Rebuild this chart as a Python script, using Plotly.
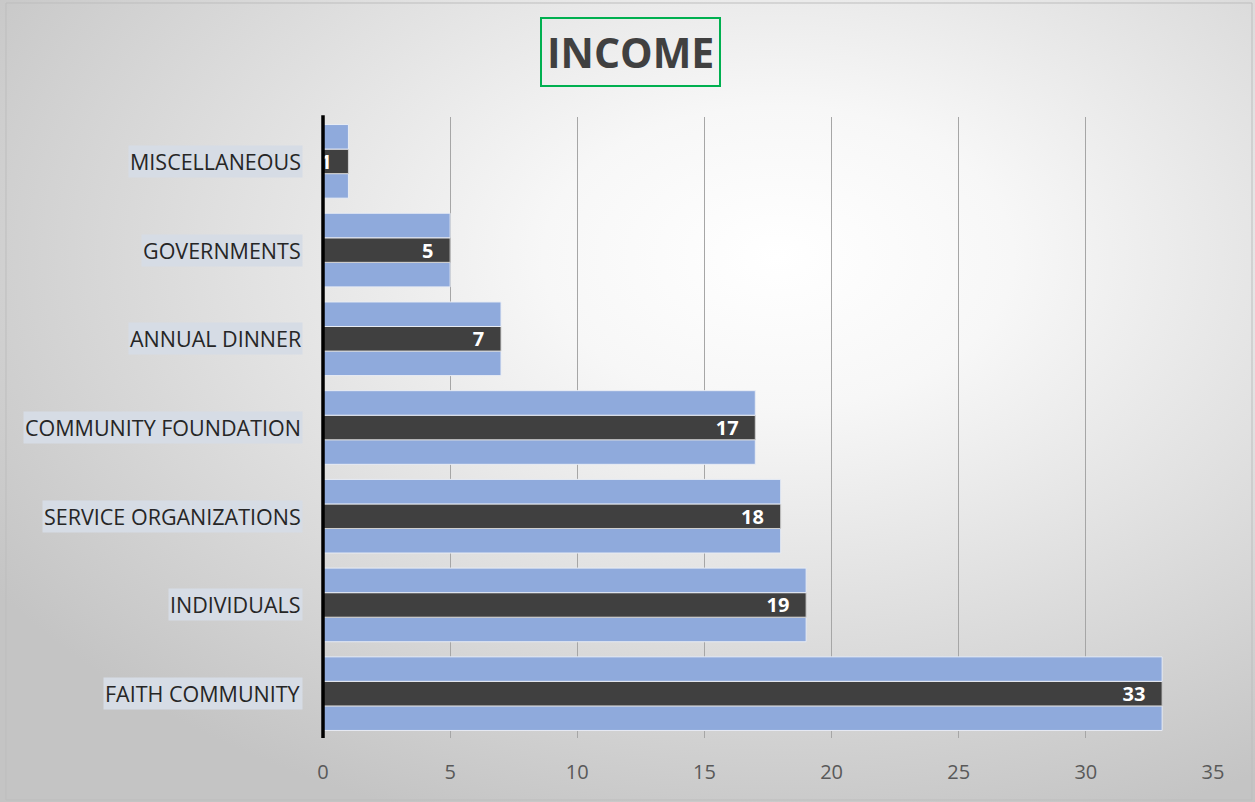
import base64
import plotly.graph_objects as go

categories = ["FAITH COMMUNITY", "INDIVIDUALS", "SERVICE ORGANIZATIONS",
              "COMMUNITY FOUNDATION", "ANNUAL DINNER", "GOVERNMENTS", "MISCELLANEOUS"]
series_a = [33, 19, 18, 17, 7, 5, 1]
series_b = [33, 19, 18, 17, 7, 5, 1]
series_c = [33, 19, 18, 17, 7, 5, 1]
x_ticks = [0, 5, 10, 15, 20, 25, 30, 35]

W, H = 1255, 802
L, R, T, B = 323, 42, 117, 64
PW, PH = W - L - R, H - T - B

svg = f'''<svg xmlns="http://www.w3.org/2000/svg" width="{W}" height="{H}">
<defs><radialGradient id="g" cx="0.62" cy="0.32" r="0.75">
<stop offset="0" stop-color="#ffffff"/><stop offset="0.25" stop-color="#f7f7f7"/>
<stop offset="1" stop-color="#c4c4c4"/></radialGradient></defs>
<rect width="{W}" height="{H}" fill="url(#g)"/></svg>'''
src = "data:image/svg+xml;base64," + base64.b64encode(svg.encode()).decode()

blue = "#8FAADC"
dark = "#404040"
font = "Open Sans"

fig = go.Figure()
fig.add_trace(go.Bar(y=categories, x=series_c, orientation="h", marker=dict(color=blue, line=dict(color="#e8ecf4", width=1)), hoverinfo="skip"))
fig.add_trace(go.Bar(y=categories, x=series_b, orientation="h", marker=dict(color=dark, line=dict(color="#d0d0d0", width=1)),
                     texttemplate="<b>%{x}</b>\u00a0\u00a0\u2009", textposition="inside", insidetextanchor="end",
                     constraintext="none", textangle=0,
                     textfont=dict(color="white", size=20, family=font), hoverinfo="skip"))
fig.add_trace(go.Bar(y=categories, x=series_a, orientation="h", marker=dict(color=blue, line=dict(color="#e8ecf4", width=1)), hoverinfo="skip"))

for c in categories:
    fig.add_annotation(x=0, y=c, xref="x", yref="y", text=c, showarrow=False, xanchor="right", xshift=-20,
                       font=dict(family=font, size=21.5, color="#262626"), bgcolor="#d6dce5", borderpad=1)

fig.add_annotation(x=(630 - L) / PW, y=1 + (T - 52) / PH, xref="paper", yref="paper", text="<b>INCOME</b>",
                   showarrow=False, font=dict(family=font, size=41, color="#404040"),
                   bordercolor="#00B050", borderwidth=2, borderpad=5, xanchor="center", yanchor="middle")

fig.add_layout_image(source=src, xref="paper", yref="paper", x=-L / PW, y=1 + T / PH,
                     sizex=W / PW, sizey=H / PH, sizing="stretch", layer="below", xanchor="left", yanchor="top")

fig.add_shape(type="rect", xref="paper", yref="paper", x0=(6 - L) / PW, x1=(W - 3 - L) / PW,
              y0=1 + (T - (H - 2)) / PH, y1=1 + (T - 3) / PH, line=dict(color="#bdbdbd", width=1))

fig.update_layout(
    width=W, height=H, margin=dict(l=L, r=R, t=T, b=B, autoexpand=False),
    barmode="group", bargap=0.17, bargroupgap=0,
    showlegend=False, paper_bgcolor="rgba(0,0,0,0)", plot_bgcolor="rgba(0,0,0,0)",
    xaxis=dict(range=[0, 35], tickvals=x_ticks, showgrid=True, gridcolor="#a6a6a6", gridwidth=1,
               zeroline=False, showline=False, tickfont=dict(family=font, size=20, color="#595959"),
               ticks="", ticklabelstandoff=20, automargin=False),
    yaxis=dict(showticklabels=False, showgrid=False, zeroline=False, showline=False, automargin=False,
               categoryorder="array", categoryarray=categories),
)
fig.add_shape(type="line", xref="paper", yref="paper", x0=0, x1=0, y0=0, y1=1.003, line=dict(color="black", width=3.5))

fig.write_html("out.html", config={"displayModeBar": False},
               post_script="document.body.style.margin='0';document.body.style.overflow='hidden';")
